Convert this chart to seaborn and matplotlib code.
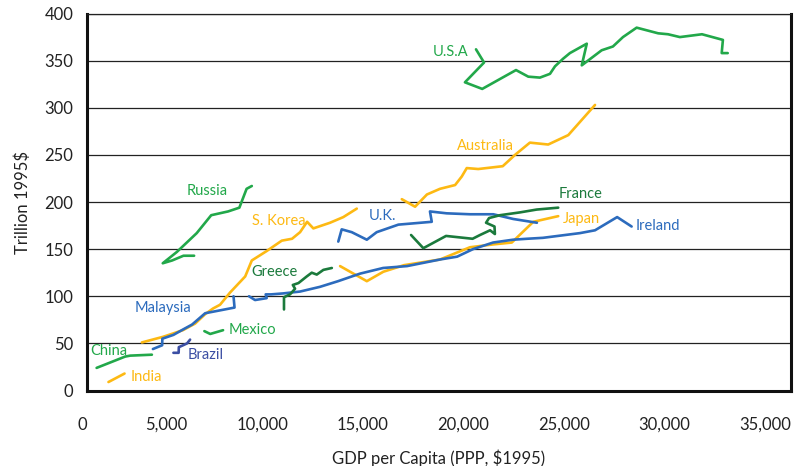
import matplotlib
matplotlib.use('Agg')
import matplotlib.pyplot as plt
import pandas as pd
import seaborn as sns

# GDP per capita (x) and trillion 1995$ (y), traced point by point
usa_x = [19340, 19740, 18790, 19650, 21330, 21940, 22520, 23020, 23270, 23670, 24010,
         24850, 24600, 25590, 26150, 26650, 27330, 28400, 28890, 29480, 30580, 31620,
         31560, 31860]
usa_y = [362, 348, 327, 320, 340, 333, 332, 336, 344, 352, 358,
         368, 345, 361, 365, 375, 385, 379, 378, 375, 378, 372,
         358, 358]

russia_x = [8190, 7930, 7570, 7010, 6170, 5450, 4460, 3760, 4230, 4790, 5320]
russia_y = [217, 214, 194, 190, 186, 167, 147, 135, 138, 143, 143]

china_x = [470, 1890, 2140, 3220]
china_y = [24, 36, 37, 38]

india_x = [1060, 1860]
india_y = [9, 18]

mexico_x = [5830, 6120, 6760]
mexico_y = [63, 60, 64]

brazil_x = [4290, 4550, 4560, 4770, 4970, 5120]
brazil_y = [40, 40, 46, 48, 50, 54]

malaysia_x = [3270, 3730, 3740, 4290, 4790, 5220, 5870, 7330, 7280]
malaysia_y = [44, 48, 55, 59, 65, 70, 82, 88, 100]

korea_x = [2720, 3780, 4760, 5370, 5870, 6260, 6610, 7110, 7860, 8190, 8930, 9680,
           10190, 10590, 10940, 11250, 12080, 12740, 13410]
korea_y = [51, 57, 64, 71, 81, 87, 91, 104, 121, 138, 148, 159,
           161, 168, 179, 172, 178, 184, 193]

greece_x = [9790, 9790, 10090, 10340, 10230, 10510, 10920, 11170, 11420, 11750, 12170]
greece_y = [86, 99, 102, 108, 112, 114, 121, 125, 123, 128, 130]

ireland_x = [8050, 8350, 8930, 8880, 9150, 9740, 10590, 11580, 12480, 13570, 14720, 15910,
             17550, 18400, 19190, 20190, 21180, 21880, 22670, 24510, 25260, 26360, 27080]
ireland_y = [100, 96, 98, 102, 102, 103, 105, 110, 116, 124, 130, 132,
             139, 142, 150, 157, 160, 161, 162, 167, 170, 184, 174]

uk_x = [12490, 12660, 13160, 13910, 14400, 15480, 17140, 17050, 17880, 19040, 20200,
        21190, 22370]
uk_y = [158, 171, 168, 160, 168, 176, 179, 190, 188, 187, 187, 182, 178]

france_x = [16110, 16720, 17850, 19170, 19540, 20040, 20280, 20260, 19840, 19990, 20530,
            21530, 22360, 23430]
france_y = [165, 151, 164, 161, 165, 170, 166, 174, 178, 183, 186, 189, 192, 194]

japan_x = [12580, 13910, 14730, 15760, 17550, 19040, 20190, 21120, 22190, 23430]
japan_y = [132, 116, 126, 133, 139, 152, 155, 157, 179, 185]

australia_x = [15650, 16310, 16900, 17550, 18300, 18630, 18880, 19450, 20670, 21280,
               22020, 22930, 23930, 25260]
australia_y = [203, 195, 208, 214, 218, 227, 236, 235, 238, 250, 263, 261, 271, 303]

GREEN = '#22a84a'
DARK_GREEN = '#1b7a3c'
YELLOW = '#fdb913'
BLUE = '#2c6bbd'
INDIGO = '#3b4ea3'

series = {
    'U.S.A': (usa_x, usa_y, GREEN, (18050, 359)),
    'Russia': (russia_x, russia_y, GREEN, (5970, 212)),
    'China': (china_x, china_y, GREEN, (1090, 42)),
    'Mexico': (mexico_x, mexico_y, GREEN, (8200, 64)),
    'India': (india_x, india_y, YELLOW, (2930, 14)),
    'S. Korea': (korea_x, korea_y, YELLOW, (9550, 180)),
    'Japan': (japan_x, japan_y, YELLOW, (24560, 182)),
    'Australia': (australia_x, australia_y, YELLOW, (19790, 259)),
    'Malaysia': (malaysia_x, malaysia_y, BLUE, (3780, 88)),
    'Ireland': (ireland_x, ireland_y, BLUE, (28390, 175)),
    'U.K.': (uk_x, uk_y, BLUE, (14670, 185)),
    'Brazil': (brazil_x, brazil_y, INDIGO, (5870, 38)),
    'Greece': (greece_x, greece_y, DARK_GREEN, (9300, 126)),
    'France': (france_x, france_y, DARK_GREEN, (24560, 209)),
}

rows = []
for name, (xs, ys, _, _) in series.items():
    for x, y in zip(xs, ys):
        rows.append({'country': name, 'gdp': x, 'value': y})
df = pd.DataFrame(rows)
palette = {name: s[2] for name, s in series.items()}

sns.set_style('white')
plt.rcParams['font.family'] = ['Lato', 'DejaVu Sans']

fig, ax = plt.subplots(figsize=(8.07, 4.66), dpi=100)
fig.subplots_adjust(left=0.108, right=0.980, bottom=0.162, top=0.971)

sns.lineplot(data=df, x='gdp', y='value', hue='country', palette=palette,
             sort=False, estimator=None, linewidth=1.9, legend=False, ax=ax)

for name, (_, _, color, pos) in series.items():
    ax.text(pos[0], pos[1], name, color=color, fontsize=10.5, ha='center', va='center')

ax.set_xlim(0, 35000)
ax.set_ylim(0, 400)
ax.set_xticks(range(0, 35001, 5000))
ax.set_xticklabels([f'{v:,}' for v in range(0, 35001, 5000)], ha='right')
ax.set_yticks(range(0, 401, 50))
ax.yaxis.grid(True, color='#222222', linewidth=0.9)
ax.set_axisbelow(True)
ax.tick_params(length=0, labelsize=12, colors='#222222')
ax.tick_params(axis='x', pad=19)
ax.tick_params(axis='y', pad=10)

for side in ['left', 'bottom', 'right']:
    ax.spines[side].set_linewidth(2.2)
    ax.spines[side].set_color('#111111')
ax.spines['top'].set_linewidth(0.9)
ax.spines['top'].set_color('#222222')

ax.set_xlabel('GDP per Capita (PPP, $1995)', fontsize=12, labelpad=12, color='#222222')
ax.set_ylabel('Trillion 1995$', fontsize=12, labelpad=10, color='#222222')

plt.savefig('out.png', dpi=100)
